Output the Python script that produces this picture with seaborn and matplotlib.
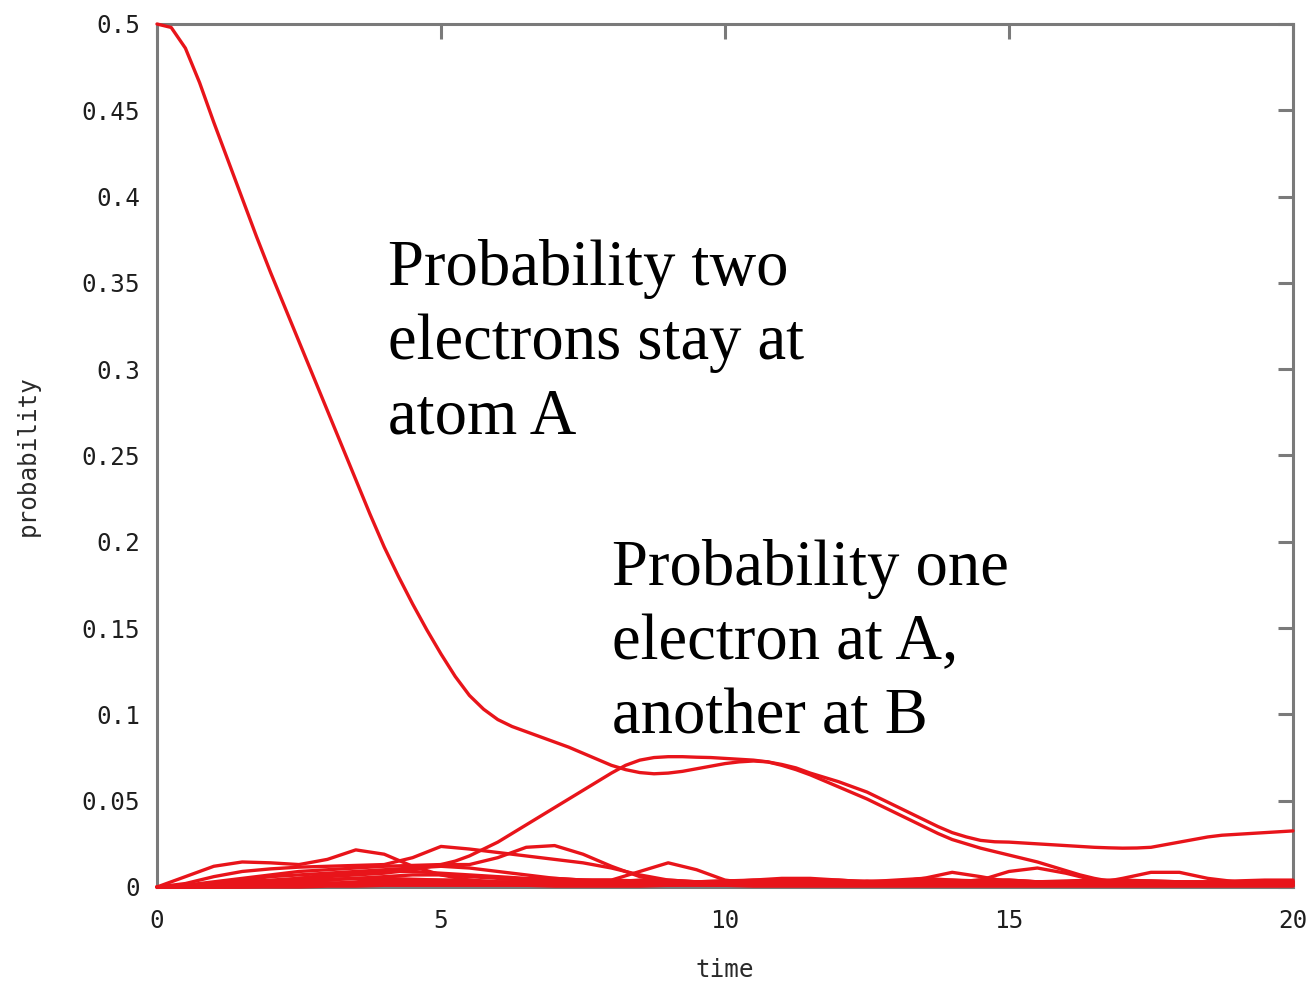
import numpy as np
import pandas as pd
import matplotlib
matplotlib.use("Agg")
import matplotlib.pyplot as plt
import seaborn as sns

# Time grids (fine grid for the two dominant occupations, coarse for the rest)
time_fine = np.linspace(0, 20, 81)
time_coarse = np.linspace(0, 20, 41)

# Both electrons on atom A
p_two_at_a = [
    0.500, 0.498, 0.486, 0.466, 0.443, 0.421, 0.399, 0.377, 0.356, 0.336,
    0.316, 0.296, 0.276, 0.256, 0.236, 0.216, 0.197, 0.180, 0.164, 0.149,
    0.135, 0.122, 0.111, 0.103, 0.097, 0.093, 0.090, 0.087, 0.084, 0.081,
    0.0775, 0.074, 0.0705, 0.068, 0.0663, 0.0656, 0.066, 0.067, 0.0685, 0.070,
    0.0715, 0.0725, 0.073, 0.0725, 0.071, 0.069, 0.066, 0.0635, 0.061, 0.058,
    0.055, 0.051, 0.047, 0.043, 0.039, 0.035, 0.0315, 0.029, 0.027, 0.0262,
    0.026, 0.0255, 0.025, 0.0245, 0.024, 0.0235, 0.023, 0.0227, 0.0225, 0.0226,
    0.023, 0.0245, 0.026, 0.0275, 0.029, 0.030, 0.0305, 0.031, 0.0315, 0.032,
    0.0325,
]

# One electron on atom A, the other on atom B
p_one_a_one_b = [
    0.000, 0.0003, 0.001, 0.0015, 0.002, 0.0025, 0.003, 0.0035, 0.004, 0.0045,
    0.005, 0.0055, 0.006, 0.0065, 0.007, 0.0075, 0.008, 0.009, 0.010, 0.0115,
    0.013, 0.015, 0.018, 0.022, 0.026, 0.031, 0.036, 0.041, 0.046, 0.051,
    0.056, 0.061, 0.066, 0.0705, 0.0735, 0.075, 0.0755, 0.0755, 0.0752, 0.075,
    0.0745, 0.074, 0.0735, 0.0725, 0.0705, 0.068, 0.065, 0.0615, 0.058, 0.0545,
    0.051, 0.047, 0.043, 0.039, 0.035, 0.031, 0.0275, 0.025, 0.0225, 0.0205,
    0.0185, 0.0165, 0.0145, 0.012, 0.0095, 0.007, 0.005, 0.0035, 0.0025, 0.002,
    0.002, 0.0025, 0.003, 0.003, 0.003, 0.0025, 0.002, 0.002, 0.002, 0.0025,
    0.003,
]

# Remaining occupation configurations (small amplitudes)
p_state_1 = [0, .006, .012, .0145, .014, .013, .016, .0215, .019, .012, .007, .004, .002, .001,
             .001, .002, .003, .004, .004, .003, .002, .002, .003, .004, .004, .003, .002, .002,
             .003, .004, .004, .003, .002, .002, .003, .003, .002, .002, .002, .002, .002]
p_state_2 = [0, .002, .006, .009, .0105, .0115, .012, .0125, .013, .017, .0235, .022, .020, .018,
             .016, .014, .011, .007, .004, .003, .002, .002, .001, .001, .002, .003, .004, .005,
             .004, .003, .002, .002, .003, .004, .003, .002, .001, .001, .002, .003, .003]
p_state_3 = [0, .001, .003, .005, .007, .009, .010, .011, .012, .0125, .013, .013, .017, .023,
             .024, .019, .012, .006, .003, .002, .002, .003, .004, .003, .002, .002, .003, .005,
             .0085, .006, .003, .002, .002, .003, .004, .003, .002, .002, .002, .003, .003]
p_state_4 = [0, .0005, .002, .004, .006, .007, .008, .009, .010, .011, .012, .011, .009, .007,
             .005, .004, .004, .009, .014, .010, .004, .002, .001, .001, .002, .003, .003, .002,
             .002, .004, .009, .011, .008, .004, .002, .001, .001, .002, .003, .002, .001]
p_state_5 = [0, 0, .001, .002, .003, .005, .007, .008, .009, .009, .008, .007, .006, .005,
             .005, .004, .003, .002, .002, .002, .003, .004, .005, .005, .004, .003, .002, .002,
             .003, .004, .004, .003, .002, .002, .005, .0085, .0085, .005, .003, .002, .001]
p_state_6 = [0, 0, .0005, .001, .002, .003, .004, .005, .006, .007, .007, .006, .005, .004,
             .003, .003, .003, .002, .002, .003, .003, .003, .002, .002, .001, .001, .002, .002,
             .003, .002, .002, .001, .001, .001, .002, .002, .002, .001, .001, .001, .002]
p_state_7 = [0, 0, 0, .0005, .001, .0015, .002, .003, .004, .004, .004, .004, .003, .003,
             .002, .002, .001, .001, .001, .002, .002, .002, .001, .001, .001, .001, .001, .001,
             .002, .002, .001, .001, .001, .001, .001, .001, .001, .001, .001, .001, .001]
p_state_8 = [0, 0, 0, 0, .0005, .001, .001, .0015, .002, .002, .0025, .002, .002, .0015,
             .001, .001, .0015, .002, .002, .0015, .001, .001, .001, .0015, .002, .002, .0015, .001,
             .001, .001, .0015, .002, .002, .0015, .001, .001, .001, .001, .0015, .0015, .001]
p_state_9 = [0, 0, 0, 0, 0, 0, .0005, .0005, .001, .001, .001, .001, .001, .001,
             .0005, .0005, .0005, .0005, .001, .001, .001, .0005, .0005, .0005, .0005, .0005, .0005, .0005,
             .0005, .0005, .0005, .0005, .0005, .0005, .0005, .0005, .0005, .0005, .0005, .0005, .0005]
p_state_10 = [0, .001, .002, .003, .0035, .004, .0045, .005, .005, .0045, .004, .0035, .003, .003,
              .0035, .004, .004, .0035, .003, .003, .0035, .004, .004, .0035, .003, .003, .0035, .004,
              .004, .0035, .003, .003, .0035, .004, .004, .0035, .003, .003, .0035, .004, .004]
p_state_11 = [0, .0005, .0015, .0025, .003, .003, .0025, .002, .0025, .003, .0035, .003, .0025, .0025,
              .003, .0035, .003, .0025, .0025, .003, .0035, .003, .0025, .0025, .003, .0035, .003, .0025,
              .0025, .003, .0035, .003, .0025, .0025, .003, .0035, .003, .0025, .0025, .003, .003]

small_states = {
    "s1": p_state_1, "s2": p_state_2, "s3": p_state_3, "s4": p_state_4, "s5": p_state_5,
    "s6": p_state_6, "s7": p_state_7, "s8": p_state_8, "s9": p_state_9, "s10": p_state_10,
    "s11": p_state_11,
}

x_ticks = [0, 5, 10, 15, 20]
x_tick_labels = ["0", "5", "10", "15", "20"]
y_ticks = [0, 0.05, 0.1, 0.15, 0.2, 0.25, 0.3, 0.35, 0.4, 0.45, 0.5]
y_tick_labels = ["0", "0.05", "0.1", "0.15", "0.2", "0.25", "0.3", "0.35", "0.4", "0.45", "0.5"]

label_two_at_a = "Probability two\nelectrons stay at\natom A"
label_one_a_one_b = "Probability one\nelectron at A,\nanother at B"

# Long-form table of every trace
frames = []
for name, vals in small_states.items():
    frames.append(pd.DataFrame({"time": time_coarse, "probability": vals, "state": name}))
frames.append(pd.DataFrame({"time": time_fine, "probability": p_one_a_one_b, "state": "AB"}))
frames.append(pd.DataFrame({"time": time_fine, "probability": p_two_at_a, "state": "AA"}))
df = pd.concat(frames, ignore_index=True)

sns.set_theme(style="white")
plt.rcParams["font.family"] = ["DejaVu Sans Mono", "DejaVu Sans"]

RED = "#e8141a"
AXIS_GRAY = "#7a7a7a"

fig = plt.figure(figsize=(13.16, 9.85), dpi=100)
ax = fig.add_axes([157 / 1316, (985 - 887) / 985, (1293 - 157) / 1316, (887 - 24) / 985])

states = list(df["state"].unique())
sns.lineplot(data=df, x="time", y="probability", hue="state", hue_order=states,
             palette={s: RED for s in states}, estimator=None, sort=False,
             linewidth=2.4, legend=False, ax=ax, clip_on=False, zorder=3)

ax.set_xlim(0, 20)
ax.set_ylim(0, 0.5)
ax.set_xticks(x_ticks)
ax.set_xticklabels(x_tick_labels)
ax.set_yticks(y_ticks)
ax.set_yticklabels(y_tick_labels)

for sp in ax.spines.values():
    sp.set_visible(True)
    sp.set_color(AXIS_GRAY)
    sp.set_linewidth(2.2)

ax.tick_params(axis="both", which="major", direction="in", length=11, width=2.2,
               color=AXIS_GRAY, top=True, right=True, labelsize=17.5, labelcolor="#1e1e1e")
ax.tick_params(axis="y", pad=12)
ax.tick_params(axis="x", pad=16)

ax.set_xlabel("time", fontsize=17.5, color="#2a2a2a", labelpad=18)
ax.set_ylabel("probability", fontsize=17.5, color="#2a2a2a", labelpad=30)

serif = ["Liberation Serif", "DejaVu Serif"]
ax.text(4.07, 0.263, label_two_at_a, family=serif, fontsize=46.5, color="black",
        ha="left", va="baseline", linespacing=1.32)
ax.text(8.01, 0.0892, label_one_a_one_b, family=serif, fontsize=46.5, color="black",
        ha="left", va="baseline", linespacing=1.32)

fig.savefig("out.png", dpi=100, facecolor="white")
